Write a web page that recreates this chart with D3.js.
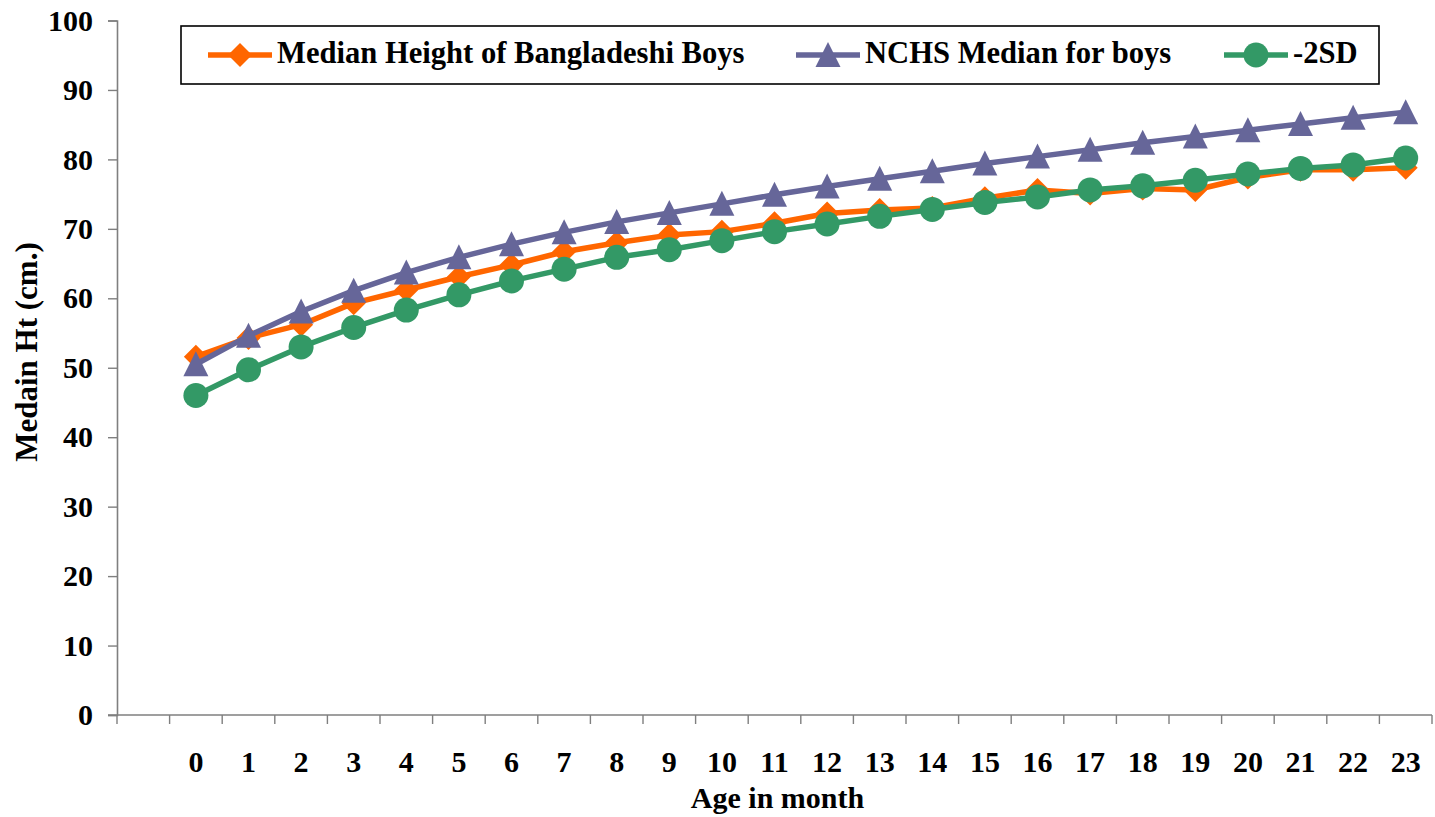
<!DOCTYPE html>
<html>
<head>
<meta charset="utf-8">
<script src="https://cdn.jsdelivr.net/npm/d3@7/dist/d3.min.js"></script>
<style>
  body { margin: 0; background: #fff; }
</style>
</head>
<body>
<div id="chart"></div>
<script>
// Categories: Excel left one blank category in front of month 0
const ageLabels = ['', '0', '1', '2', '3', '4', '5', '6', '7', '8', '9', '10', '11',
    '12', '13', '14', '15', '16', '17', '18', '19', '20', '21', '22', '23'];
const ages = ageLabels.slice(1);

// Heights in cm, one value per month 0..23
const bangladeshiBoys = [51.6, 54.3, 56.2, 59.3, 61.2, 63.1, 64.8, 66.7, 68.0, 69.1, 69.6, 70.8,
    72.2, 72.7, 73.0, 74.4, 75.6, 75.1, 75.8, 75.6, 77.4, 78.5, 78.5, 78.8];
const nchsMedian = [50.5, 54.6, 58.1, 61.1, 63.7, 65.9, 67.8, 69.5, 71.0, 72.3, 73.6, 74.9,
    76.1, 77.2, 78.3, 79.4, 80.4, 81.4, 82.4, 83.3, 84.2, 85.1, 86.0, 86.8];
const minusTwoSD = [46.0, 49.7, 53.0, 55.8, 58.3, 60.5, 62.5, 64.2, 65.9, 67.0, 68.3, 69.6,
    70.7, 71.8, 72.8, 73.8, 74.6, 75.6, 76.2, 77.0, 77.9, 78.7, 79.2, 80.2];

const yTicks = [0, 10, 20, 30, 40, 50, 60, 70, 80, 90, 100];
const seriesNames = ['Median Height of Bangladeshi Boys', 'NCHS Median for boys', '-2SD'];

const fontFamily = "'Times New Roman', 'Liberation Serif', 'DejaVu Serif', serif";

function draw() {
    const dimensions = {
        width: 1435,
        height: 817,
        left: 117,
        right: 1432,
        top: 20.5,
        bottom: 715
    };

    const series = [
        { name: seriesNames[0], values: bangladeshiBoys, color: '#FF6600', marker: 'diamond' },
        { name: seriesNames[1], values: nchsMedian, color: '#666699', marker: 'triangle' },
        { name: seriesNames[2], values: minusTwoSD, color: '#339966', marker: 'circle' }
    ];

    // Scales
    const xScale = d3.scaleBand()
        .domain(ageLabels)
        .range([dimensions.left, dimensions.right]);
    const xCenter = label => xScale(label) + xScale.bandwidth() / 2;

    const yScale = d3.scaleLinear()
        .domain([0, 100])
        .range([dimensions.bottom, dimensions.top]);

    const svg = d3.select('#chart')
        .append('svg')
        .attr('width', dimensions.width)
        .attr('height', dimensions.height);

    const styleText = (sel, size = 30) => sel
        .attr('font-family', null)
        .style('font-family', fontFamily)
        .style('font-weight', 'bold')
        .style('font-size', size + 'px')
        .attr('fill', '#000');

    // Marker shapes, centred on the point
    const markerPath = {
        diamond: 'M0,-12L12,0L0,12L-12,0Z',
        triangle: 'M0,-13L12.5,12L-12.5,12Z'
    };

    // Axes
    const axisColor = '#7f7f7f';
    const yAxis = d3.axisLeft(yScale)
        .tickValues(yTicks)
        .tickSize(9)
        .tickPadding(15);
    const yAxisGroup = svg.append('g')
        .attr('transform', `translate(${dimensions.left}, 0)`)
        .call(yAxis)
        .attr('font-family', null);
    yAxisGroup.select('.domain').attr('stroke', axisColor).attr('stroke-width', 1.6);
    yAxisGroup.selectAll('.tick line').attr('stroke', axisColor).attr('stroke-width', 1.4);
    yAxisGroup.selectAll('.tick text').call(styleText, 30);

    const xAxis = d3.axisBottom(xScale)
        .tickSize(0)
        .tickPadding(36);
    const xAxisGroup = svg.append('g')
        .attr('transform', `translate(0, ${dimensions.bottom})`)
        .call(xAxis)
        .attr('font-family', null);
    xAxisGroup.select('.domain').remove();
    xAxisGroup.selectAll('.tick text').call(styleText, 30);

    // x axis line (extends under the y tick) and category boundary ticks
    svg.append('line')
        .attr('x1', dimensions.left - 9)
        .attr('x2', dimensions.right)
        .attr('y1', dimensions.bottom)
        .attr('y2', dimensions.bottom)
        .attr('stroke', axisColor)
        .attr('stroke-width', 1.6);
    const boundaries = ageLabels.map(d => xScale(d)).concat([dimensions.right]);
    svg.append('g')
        .selectAll('line')
        .data(boundaries)
        .join('line')
        .attr('x1', d => d)
        .attr('x2', d => d)
        .attr('y1', dimensions.bottom)
        .attr('y2', dimensions.bottom + 9)
        .attr('stroke', axisColor)
        .attr('stroke-width', 1.4);

    // Axis titles
    svg.append('text')
        .attr('x', (dimensions.left + dimensions.right) / 2 + 3)
        .attr('y', 808)
        .attr('text-anchor', 'middle')
        .call(styleText, 30)
        .text('Age in month');
    svg.append('text')
        .attr('transform', 'translate(37, 352) rotate(-90)')
        .attr('text-anchor', 'middle')
        .call(styleText, 31)
        .text('Medain Ht (cm.)');

    // Series: line then markers, in series order
    const line = d3.line()
        .x((d, i) => xCenter(ages[i]))
        .y(d => yScale(d));

    const addMarker = (sel, s) => {
        if (s.marker === 'circle') {
            sel.append('circle').attr('r', 12.5).attr('fill', s.color);
        } else {
            sel.append('path').attr('d', markerPath[s.marker]).attr('fill', s.color);
        }
    };

    series.forEach(s => {
        const g = svg.append('g');
        g.append('path')
            .datum(s.values)
            .attr('d', line)
            .attr('fill', 'none')
            .attr('stroke', s.color)
            .attr('stroke-width', 5.5)
            .attr('stroke-linejoin', 'round');
        g.selectAll('g.pt')
            .data(s.values)
            .join('g')
            .attr('class', 'pt')
            .attr('transform', (d, i) => `translate(${xCenter(ages[i])}, ${yScale(d)})`)
            .each(function () { addMarker(d3.select(this), s); });
    });

    // Legend
    const legend = svg.append('g');
    legend.append('rect')
        .attr('x', 181)
        .attr('y', 26)
        .attr('width', 1198)
        .attr('height', 58)
        .attr('fill', '#fff')
        .attr('stroke', '#000')
        .attr('stroke-width', 1.6);
    const legendX = [208, 796, 1224];
    series.forEach((s, i) => {
        const item = legend.append('g').attr('transform', `translate(${legendX[i]}, 55)`);
        item.append('line')
            .attr('x1', 0).attr('x2', 64)
            .attr('stroke', s.color)
            .attr('stroke-width', 5.5);
        const m = item.append('g').attr('transform', 'translate(32, 0)');
        addMarker(m, s);
        item.append('text')
            .attr('x', 69)
            .attr('y', 8)
            .call(styleText, 30.6)
            .text(s.name);
    });
}

draw();
</script>
</body>
</html>
